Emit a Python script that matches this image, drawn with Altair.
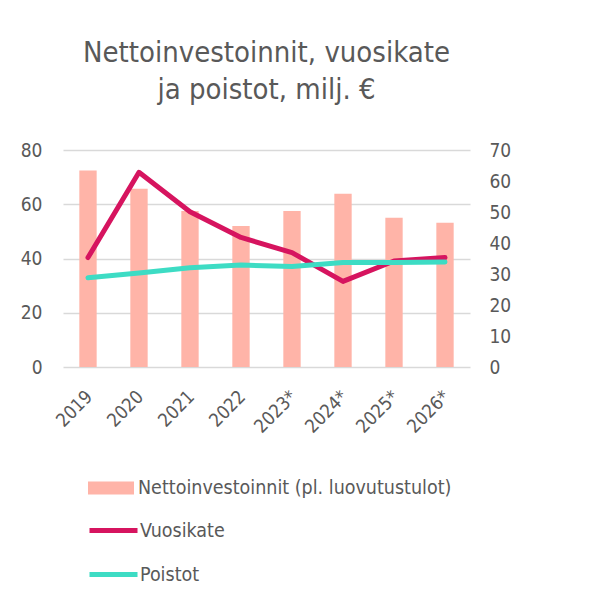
import altair as alt
import pandas as pd

years = ["2019", "2020", "2021", "2022", "2023*", "2024*", "2025*", "2026*"]
netto = [72.4, 65.7, 57.5, 52.0, 57.5, 63.9, 55.0, 53.2]
vuosikate = [35.3, 62.8, 50.1, 41.8, 36.9, 27.6, 34.2, 35.3]
poistot = [28.8, 30.3, 32.0, 32.9, 32.4, 33.7, 33.7, 33.9]

series_bar = "Nettoinvestoinnit (pl. luovutustulot)"
series_lines = ["Vuosikate", "Poistot"]

FONT = "DejaVu Sans Condensed, Roboto, sans-serif"
GRAY = "#595959"

bars_df = pd.DataFrame({"year": years, "value": netto, "series": series_bar})
lines_df = pd.DataFrame({
    "year": years * 2,
    "value": vuosikate + poistot,
    "series": [series_lines[0]] * len(years) + [series_lines[1]] * len(years),
    "order": [0] * len(years) + [1] * len(years),
})

x = alt.X("year:N", sort=years, title=None,
          scale=alt.Scale(paddingInner=0.66, paddingOuter=0.32),
          axis=alt.Axis(labelAngle=-45, labelFontSize=18.5, labelColor=GRAY,
                        labelFont=FONT, ticks=False, domain=False,
                        labelPadding=20, labelOffset=-5))

bars = alt.Chart(bars_df).mark_bar(color="#ffb4a8").encode(
    x=x,
    y=alt.Y("value:Q", title=None,
            scale=alt.Scale(domain=[0, 80], nice=False),
            axis=alt.Axis(values=[0, 20, 40, 60, 80], grid=True, gridColor="#d9d9d9",
                          gridWidth=1.3, ticks=False, domain=False,
                          labelFontSize=19, labelColor=GRAY, labelFont=FONT,
                          labelPadding=21)),
    fill=alt.Fill("series:N", title=None,
                  scale=alt.Scale(domain=[series_bar], range=["#ffb4a8"]),
                  legend=alt.Legend(orient="none", legendX=25, legendY=315,
                                    symbolType="M-1,-0.283L1,-0.283L1,0.283L-1,0.283Z",
                                    symbolSize=2116, symbolStrokeWidth=0,
                                    labelFontSize=19.5, labelColor=GRAY, labelFont=FONT,
                                    labelOffset=4, symbolOffset=0, labelLimit=400)),
)

lines = alt.Chart(lines_df).mark_line(strokeWidth=5, strokeCap="round", strokeJoin="round").encode(
    x=x,
    y=alt.Y("value:Q", title=None,
            scale=alt.Scale(domain=[0, 70], nice=False),
            axis=alt.Axis(orient="right", values=[0, 10, 20, 30, 40, 50, 60, 70],
                          grid=False, ticks=False, domain=False,
                          labelFontSize=19, labelColor=GRAY, labelFont=FONT,
                          labelPadding=19)),
    stroke=alt.Stroke("series:N", title=None, sort=series_lines,
                      scale=alt.Scale(domain=series_lines, range=["#d6145f", "#3ddcc4"]),
                      legend=alt.Legend(orient="none", legendX=24, legendY=354,
                                        symbolType="stroke", symbolSize=2304,
                                        symbolStrokeWidth=5, rowPadding=7,
                                        labelFontSize=19.5, labelColor=GRAY, labelFont=FONT,
                                        labelOffset=0, symbolOffset=0)),
    detail="series:N",
    order="order:Q",
)

chart = alt.layer(bars, lines).resolve_scale(y="independent").properties(
    width=407, height=217,
    padding={"left": 55, "top": 142, "right": 100, "bottom": 230},
    autosize=alt.AutoSizeParams(type="none"),
    title=alt.Title(["Nettoinvestoinnit, vuosikate", "ja poistot, milj. €"],
                    fontSize=29, font=FONT, color=GRAY, fontWeight="normal",
                    lineHeight=37, offset=36, anchor="middle"),
).configure(background="white", view=alt.ViewConfig(stroke=None))

chart.save("out.html", embed_options={"renderer": "svg", "actions": False})
